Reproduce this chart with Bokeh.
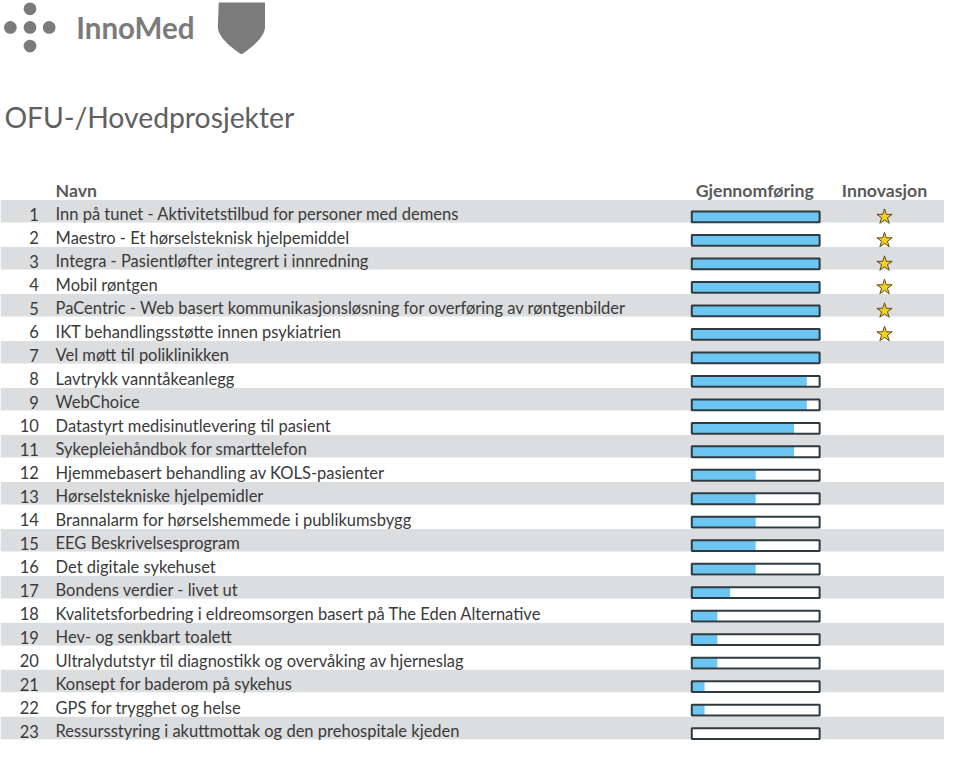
import numpy as np
from bokeh.plotting import figure
from bokeh.models import Range1d, ColumnDataSource
from bokeh.core.properties import value
from bokeh.embed import file_html
from bokeh.resources import INLINE

# ---------------- data ----------------
numbers = list(range(1, 24))
names = [
    "Inn på tunet - Aktivitetstilbud for personer med demens",
    "Maestro - Et hørselsteknisk hjelpemiddel",
    "Integra - Pasientløfter integrert i innredning",
    "Mobil røntgen",
    "PaCentric - Web basert kommunikasjonsløsning for overføring av røntgenbilder",
    "IKT behandlingsstøtte innen psykiatrien",
    "Vel møtt til poliklinikken",
    "Lavtrykk vanntåkeanlegg",
    "WebChoice",
    "Datastyrt medisinutlevering til pasient",
    "Sykepleiehåndbok for smarttelefon",
    "Hjemmebasert behandling av KOLS-pasienter",
    "Hørselstekniske hjelpemidler",
    "Brannalarm for hørselshemmede i publikumsbygg",
    "EEG Beskrivelsesprogram",
    "Det digitale sykehuset",
    "Bondens verdier - livet ut",
    "Kvalitetsforbedring i eldreomsorgen basert på The Eden Alternative",
    "Hev- og senkbart toalett",
    "Ultralydutstyr til diagnostikk og overvåking av hjerneslag",
    "Konsept for baderom på sykehus",
    "GPS for trygghet og helse",
    "Ressursstyring i akuttmottak og den prehospitale kjeden",
]
gjennomforing = [1.0, 1.0, 1.0, 1.0, 1.0, 1.0, 1.0, 0.9, 0.9, 0.8, 0.8,
                 0.5, 0.5, 0.5, 0.5, 0.5, 0.3, 0.2, 0.2, 0.2, 0.1, 0.1, 0.0]
innovasjon = [1, 1, 1, 1, 1, 1, 0, 0, 0, 0, 0, 0, 0, 0, 0, 0, 0, 0, 0, 0, 0, 0, 0]
header_labels = ["Navn", "Gjennomføring", "Innovasjon"]
title_text = "OFU-/Hovedprosjekter"
logo_text = "InnoMed"

# ---------------- layout (reference pixel units) ----------------
W, H = 960, 757
FW, FH = 944, 741
S = FW / W
ROW0, PITCH = 215.5, 24.0
BAR_X0, BAR_W, BAR_H, BAR_DY = 703.0, 130.0, 11.0, 5.5
STAR_X = 899.0
FONT = "Lato"

p = figure(width=FW, height=FH, output_backend="svg", toolbar_location=None,
           x_range=Range1d(0, W), y_range=Range1d(H, 0), min_border=0,
           background_fill_color="white", border_fill_color="white")
p.axis.visible = False
p.grid.visible = False
p.outline_line_color = None

n = np.array(numbers)
yc = ROW0 + (n - 1) * PITCH
prog = np.array(gjennomforing)
innov = np.array(innovasjon)

# stripes (odd rows)
odd = n % 2 == 1
p.quad(left=0, right=W, top=yc[odd] - 11.7, bottom=yc[odd] + 11.3,
       fill_color="#dcdddf", line_color=None)

# bars
by = yc + BAR_DY
src = ColumnDataSource(dict(y0=by - BAR_H / 2, y1=by + BAR_H / 2,
                            x1=BAR_X0 + prog * BAR_W))
p.quad(left=BAR_X0, right=BAR_X0 + BAR_W, top="y0", bottom="y1", source=src,
       fill_color="white", line_color=None)
p.quad(left=BAR_X0, right="x1", top="y0", bottom="y1", source=src,
       fill_color="#6cc6f1", line_color=None)
p.quad(left=BAR_X0, right=BAR_X0 + BAR_W, top="y0", bottom="y1", source=src,
       fill_color=None, line_color="#2e3a40", line_width=2)

# stars
sm = innov == 1
p.scatter(x=[STAR_X] * int(sm.sum()), y=by[sm], marker="star", size=16,
          fill_color="#f6d21e", line_color="#5a4a20", line_width=1)

# row numbers and names
fs_row = f"{16.8 * S:.1f}px"
p.text(x=[39] * len(n), y=yc + 3, text=[str(v) for v in numbers],
       text_align="right", text_baseline="middle", text_font=value(FONT),
       text_font_size=fs_row, text_color="#3a3a3a")
p.text(x=[56] * len(n), y=yc + 3, text=names,
       text_align="left", text_baseline="middle", text_font=value(FONT),
       text_font_size=fs_row, text_color="#3a3a3a")

# headers
fs_head = f"{18 * S:.1f}px"
p.text(x=[56], y=[194], text=[header_labels[0]], text_align="left",
       text_baseline="middle", text_font=value(FONT), text_font_style="bold",
       text_font_size=fs_head, text_color="#5a5a5a")
p.text(x=[767, 899], y=[194, 194], text=header_labels[1:], text_align="center",
       text_baseline="middle", text_font=value(FONT), text_font_style="bold",
       text_font_size=fs_head, text_color="#5a5a5a")

# title
p.text(x=[4], y=[119], text=[title_text], text_align="left",
       text_baseline="middle", text_font=value(FONT),
       text_font_size=f"{28.8 * S:.1f}px", text_color="#606060")

# logo dots
p.scatter(x=[30, 10, 30, 49.5, 30], y=[8.5, 27.5, 27.5, 27.5, 46.5],
          marker="circle", size=13 * S, fill_color="#7b7b7b", line_color=None)
p.text(x=[77], y=[28], text=[logo_text], text_align="left",
       text_baseline="middle", text_font=value(FONT), text_font_style="bold",
       text_font_size=f"{30 * S:.1f}px", text_color="#7b7b7b")

# shield
t = np.linspace(0, 1, 20)
rx = 269 - (269 - 245) * (t ** 1.8)
ry = 27 + (55 - 27) * t
lx = 2 * 245 - rx[::-1]
ly = ry[::-1]
sx = np.concatenate([[222, 269], rx, lx])
sy = np.concatenate([[2, 2], ry, ly])
p.patch(sx, sy, fill_color="#7b7b7b", line_color=None)

open("out.html", "w").write(file_html(p, INLINE))
